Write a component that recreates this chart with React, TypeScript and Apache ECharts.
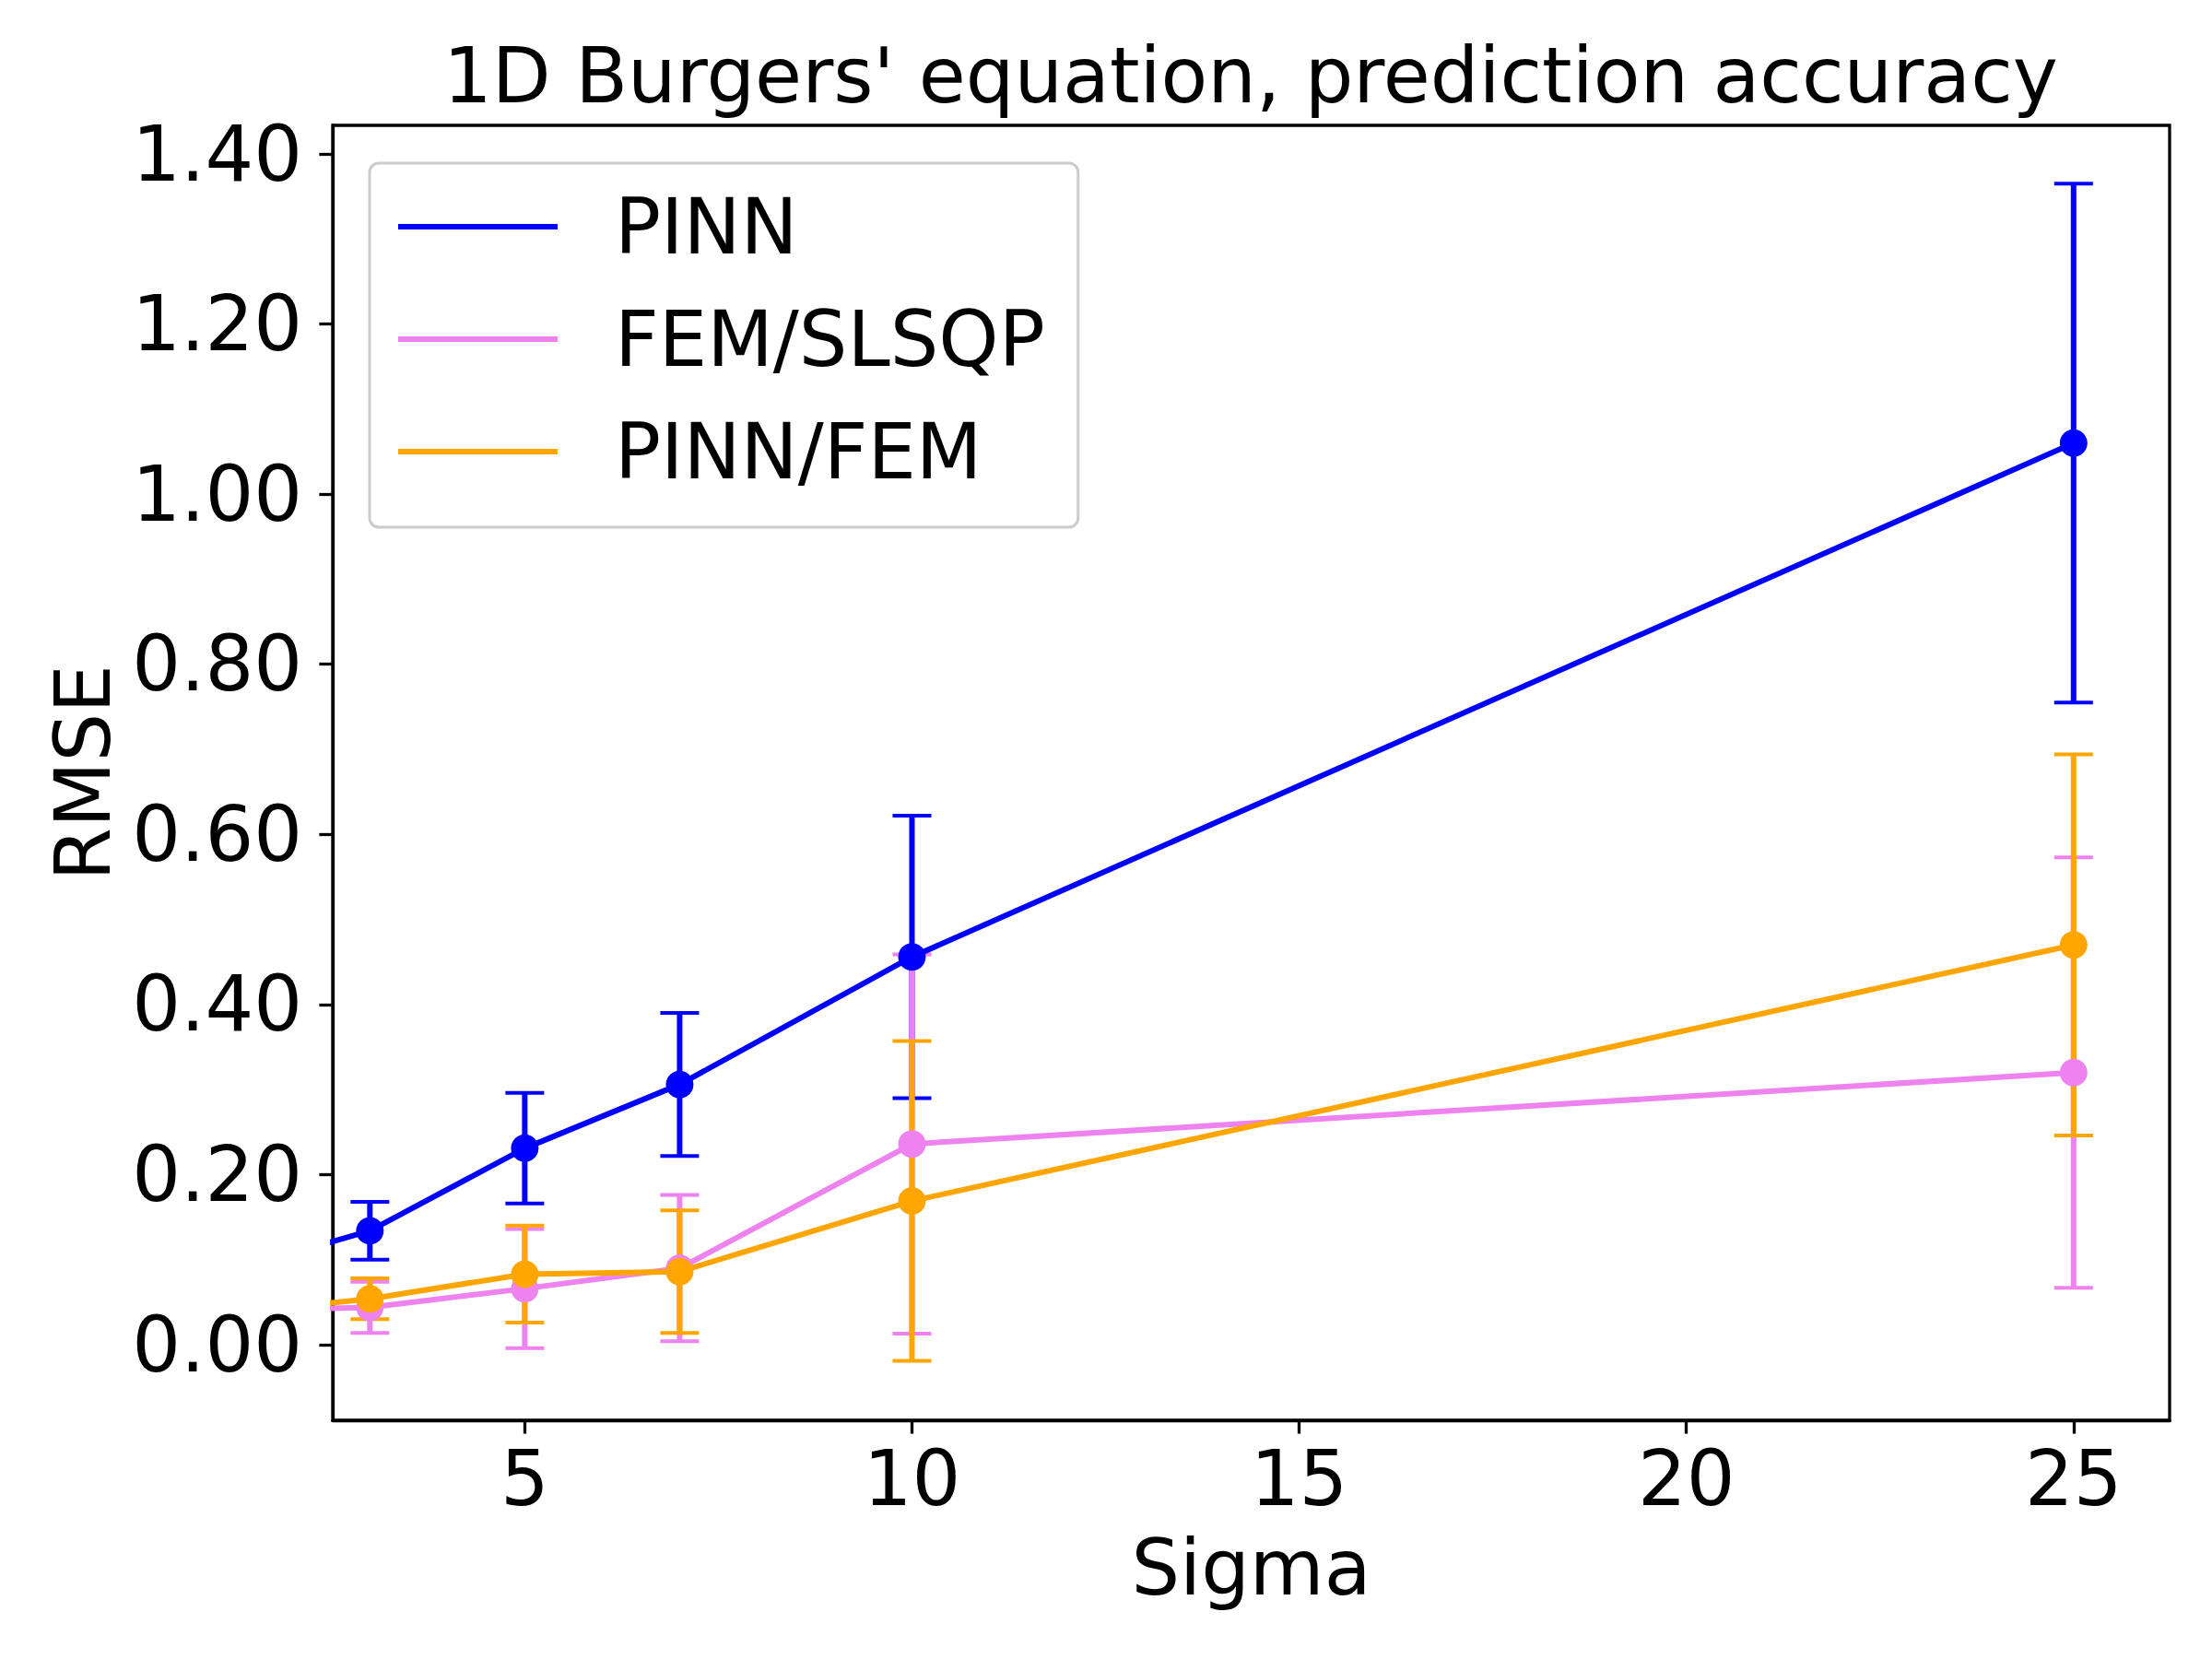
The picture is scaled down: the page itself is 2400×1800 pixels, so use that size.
import React, { useEffect, useRef } from "react";
import * as echarts from "echarts";

// ---- data ----
const SIGMA = [1, 3, 5, 7, 10, 25];
const PINN_MEAN = [0.082, 0.134, 0.231, 0.306, 0.456, 1.06];
const PINN_STD = [null, 0.034, 0.065, 0.084, 0.166, 0.305];
const FEM_MEAN = [0.04, 0.044, 0.066, 0.09, 0.236, 0.32];
const FEM_STD = [null, 0.03, 0.07, 0.086, 0.223, 0.253];
const PF_MEAN = [0.035, 0.054, 0.083, 0.086, 0.169, 0.47];
const PF_STD = [null, 0.024, 0.057, 0.072, 0.188, 0.224];

const SERIES_NAMES = ["PINN", "FEM/SLSQP", "PINN/FEM"];
const COLORS = ["#0000ff", "#ee82ee", "#ffa500"];
const X_TICKS = [5, 10, 15, 20, 25];
const Y_TICKS = [0, 0.2, 0.4, 0.6, 0.8, 1.0, 1.2, 1.4];

const TITLE = "1D Burgers' equation, prediction accuracy";
const X_NAME = "Sigma";
const Y_NAME = "RMSE";

const FONT = "DejaVu Sans";
const FS = 83;

export default function App() {
  const ref = useRef<HTMLDivElement>(null);
  useEffect(() => {
    if (!ref.current) return;
    const chart = echarts.init(ref.current, null, { renderer: "svg" });
    const means = [PINN_MEAN, FEM_MEAN, PF_MEAN];
    const stds = [PINN_STD, FEM_STD, PF_STD];

    const errSeries = means.map((m, si) => ({
      type: "custom",
      name: SERIES_NAMES[si] + " err",
      z: 2,
      clip: true,
      silent: true,
      encode: { x: 0, y: 1 },
      data: SIGMA.map((x, i) => [x, m[i], stds[si][i] == null ? 0 : stds[si][i], stds[si][i] == null ? 0 : 1]),
      renderItem: (params: any, api: any) => {
        if (!api.value(3)) return null;
        const x = api.value(0);
        const y = api.value(1);
        const s = api.value(2);
        const top = api.coord([x, y + s]);
        const bot = api.coord([x, y - s]);
        const hw = 21;
        const c = COLORS[si];
        return {
          type: "group",
          children: [
            { type: "line", shape: { x1: top[0], y1: top[1], x2: bot[0], y2: bot[1] }, style: { stroke: c, lineWidth: 6 } },
            { type: "line", shape: { x1: top[0] - hw, y1: top[1], x2: top[0] + hw, y2: top[1] }, style: { stroke: c, lineWidth: 4 } },
            { type: "line", shape: { x1: bot[0] - hw, y1: bot[1], x2: bot[0] + hw, y2: bot[1] }, style: { stroke: c, lineWidth: 4 } },
          ],
        };
      },
    }));

    const lineSeries = means.map((m, si) => ({
      type: "line",
      name: SERIES_NAMES[si],
      z: 3,
      clip: true,
      data: SIGMA.map((x, i) => [x, m[i]]),
      symbol: "circle",
      symbolSize: 30,
      showSymbol: true,
      lineStyle: { color: COLORS[si], width: 6 },
      itemStyle: { color: COLORS[si] },
      emphasis: { disabled: true },
    }));

    chart.setOption({
      animation: false,
      backgroundColor: "#ffffff",
      textStyle: { fontFamily: FONT },
      grid: {
        left: 361,
        top: 136,
        right: 46,
        bottom: 259,
        show: true,
        borderColor: "#000",
        borderWidth: 3.3,
        backgroundColor: "transparent",
      },
      xAxis: {
        type: "value",
        min: 2.52,
        max: 26.24,
        name: X_NAME,
        nameLocation: "middle",
        nameGap: 119,
        nameTextStyle: { fontSize: FS, fontFamily: FONT, color: "#000" },
        axisLine: { show: true, onZero: false, lineStyle: { color: "#000", width: 3.3 } },
        axisTick: { show: true, length: 14.6, lineStyle: { color: "#000", width: 3.3 }, customValues: X_TICKS },
        axisLabel: { fontSize: FS, fontFamily: FONT, color: "#000", margin: 22, customValues: X_TICKS, formatter: (v: number) => String(v) },
        splitLine: { show: false },
      },
      yAxis: {
        type: "value",
        min: -0.0888,
        max: 1.4336,
        name: Y_NAME,
        nameLocation: "middle",
        nameGap: 229,
        nameRotate: 90,
        nameTextStyle: { fontSize: FS, fontFamily: FONT, color: "#000" },
        axisLine: { show: true, onZero: false, lineStyle: { color: "#000", width: 3.3 } },
        axisTick: { show: true, length: 14.6, lineStyle: { color: "#000", width: 3.3 }, customValues: Y_TICKS },
        axisLabel: { fontSize: FS, fontFamily: FONT, color: "#000", margin: 33, customValues: Y_TICKS, formatter: (v: number) => v.toFixed(2) },
        splitLine: { show: false },
      },
      legend: {
        orient: "vertical",
        left: 401,
        top: 177,
        data: SERIES_NAMES.map((n) => ({ name: n, icon: "rect" })),
        itemWidth: 173,
        itemHeight: 6,
        itemGap: 22,
        selectedMode: false,
        textStyle: { fontSize: FS, fontFamily: FONT, color: "#000", lineHeight: 100, padding: [0, 0, 0, 57] },
        backgroundColor: "rgba(255,255,255,0.8)",
        borderColor: "#cccccc",
        borderWidth: 3,
        borderRadius: 10,
        padding: [19, 36, 32, 31],
      },
      graphic: [
        {
          type: "text",
          x: 1357,
          y: 82,
          style: {
            text: TITLE,
            fontSize: FS,
            fontFamily: FONT,
            fill: "#000",
            textAlign: "center",
            textVerticalAlign: "middle",
          },
        },
      ],
      series: [...errSeries, ...lineSeries],
    });
    return () => chart.dispose();
  }, []);
  return <div ref={ref} style={{ position: "fixed", left: 0, top: 0, width: 2400, height: 1800 }} />;
}
